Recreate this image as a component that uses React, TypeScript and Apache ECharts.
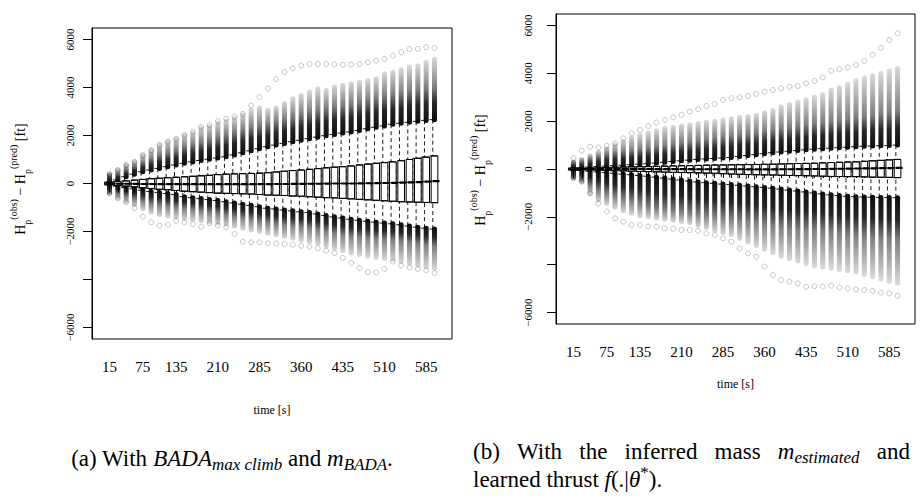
import React, { useEffect, useRef } from 'react';
import * as echarts from 'echarts';

// ---------- data ----------
const times = ['15','30','45','60','75','90','105','120','135','150','165','180','195','210','225','240','255','270','285','300','315','330','345','360','375','390','405','420','435','450','465','480','495','510','525','540','555','570','585','600'];
const shownTimes = ['15','75','135','210','285','360','435','510','585'];
const yTickValues = [-6000, -4000, -2000, 0, 2000, 4000, 6000];
const yLabelValues = [-6000, -2000, 0, 2000, 4000, 6000];

// Panel (a): BADA max climb
const aQ1 = [-50,-80,-110,-140,-180,-210,-240,-260,-290,-320,-340,-360,-380,-400,-410,-420,-430,-440,-460,-480,-490,-500,-520,-530,-550,-570,-590,-600,-620,-640,-660,-680,-700,-720,-740,-760,-770,-780,-790,-800];
const aMed = [-5,-10,-10,-15,-20,-20,-25,-25,-25,-30,-30,-30,-30,-30,-30,-30,-30,-30,-25,-25,-20,-20,-15,-15,-10,-10,-5,0,0,0,5,10,15,20,30,40,50,60,80,100];
const aQ3 = [50,80,110,140,170,200,220,240,260,280,300,320,340,370,390,400,410,420,430,450,480,510,540,560,590,620,650,680,700,730,770,810,840,870,900,950,1000,1050,1100,1150];
const aUpStart = [60,150,280,390,490,560,630,700,770,840,900,960,1010,1060,1110,1190,1280,1360,1450,1530,1600,1670,1740,1800,1870,1930,1990,2040,2100,2150,2210,2280,2340,2400,2470,2510,2550,2590,2630,2660];
const aUpDense = [390,450,600,750,900,1050,1200,1300,1400,1550,1650,1750,1850,1950,2050,2150,2250,2350,2420,2490,2600,2700,2800,2900,3000,3080,3160,3230,3280,3330,3420,3500,3580,3660,3740,3800,3860,3920,3970,4020];
const aUpOuter = [390,560,770,900,1180,1390,1600,1740,1850,2000,2100,2300,2380,2520,2600,2700,2850,3050,3150,3050,3160,3330,3530,3670,3810,3950,3880,4020,4090,4160,4220,4290,4360,4570,4640,4740,4850,4910,5050,5190];
const aUpExt = [390,560,770,900,1180,1390,1600,1740,1850,2010,2150,2360,2430,2600,2700,2780,2900,3250,3600,3950,4350,4650,4800,4920,4980,4980,4980,4960,4950,4960,4970,5050,5120,5190,5330,5470,5600,5610,5680,5650];
const aLoStart = [-60,-110,-170,-220,-280,-330,-380,-420,-460,-550,-590,-630,-670,-710,-760,-810,-860,-910,-970,-1030,-1060,-1100,-1140,-1180,-1210,-1270,-1330,-1390,-1440,-1490,-1530,-1570,-1610,-1650,-1680,-1720,-1770,-1820,-1860,-1900];
const aLoDense = [-410,-450,-550,-650,-750,-850,-900,-950,-1000,-1050,-1100,-1150,-1200,-1260,-1320,-1380,-1440,-1500,-1580,-1650,-1690,-1730,-1780,-1820,-1860,-1930,-2000,-2070,-2140,-2210,-2240,-2270,-2300,-2330,-2350,-2400,-2450,-2510,-2570,-2620];
const aLoOuter = [-410,-600,-750,-900,-1050,-1200,-1300,-1350,-1400,-1450,-1500,-1550,-1600,-1650,-1700,-1780,-1860,-1940,-2000,-2070,-2140,-2210,-2280,-2350,-2420,-2500,-2600,-2700,-2800,-2900,-2960,-3020,-3080,-3130,-3180,-3250,-3320,-3400,-3470,-3530];
const aLoExt = [-410,-620,-780,-1020,-1380,-1620,-1760,-1720,-1560,-1620,-1700,-1800,-1650,-1750,-1820,-2100,-2420,-2450,-2450,-2490,-2500,-2520,-2550,-2600,-2630,-2700,-2800,-2900,-3100,-3310,-3520,-3690,-3710,-3560,-3250,-3420,-3500,-3560,-3620,-3730];

// Panel (b): inferred mass + learned thrust
const bQ1 = [-40,-30,-40,-50,-60,-70,-80,-90,-100,-110,-120,-130,-140,-145,-150,-160,-170,-180,-195,-210,-220,-230,-240,-245,-250,-260,-270,-275,-280,-290,-300,-310,-315,-320,-320,-330,-340,-345,-350,-360];
const bMed = [0,0,0,0,0,0,0,0,0,0,-5,-5,-5,-5,-5,-10,-10,-10,-10,-10,-10,-15,-15,-15,-15,-10,-10,-5,-5,0,0,5,10,15,20,25,30,35,40,45];
const bQ3 = [40,30,40,50,60,70,80,90,95,100,110,120,130,135,140,150,160,165,170,175,180,185,190,195,200,210,220,230,235,240,255,270,280,290,300,320,340,360,380,400];
const bUpStart = [40,60,80,100,120,140,160,180,200,220,250,280,310,340,370,400,420,440,460,480,520,560,600,640,680,710,740,770,800,830,850,870,890,910,930,950,960,970,980,1000];
const bUpDense = [300,350,450,550,650,700,750,800,850,900,950,1000,1050,1100,1150,1200,1250,1300,1350,1400,1450,1500,1550,1600,1650,1700,1750,1800,1850,1900,1950,2000,2050,2100,2150,2200,2250,2300,2350,2400];
const bUpOuter = [300,400,550,700,850,1000,1150,1300,1400,1500,1600,1700,1750,1800,1850,1900,1950,2000,2050,2100,2150,2200,2250,2350,2450,2600,2700,2800,2900,3000,3100,3300,3400,3550,3700,3800,3900,4000,4100,4200];
const bUpExt = [450,770,930,900,975,1070,1280,1490,1630,1800,1940,2050,2160,2260,2400,2500,2630,2720,2890,2960,3000,3050,3140,3230,3300,3370,3440,3470,3580,3680,3830,4110,4170,4240,4350,4520,4770,5070,5390,5670];
const bLoStart = [-40,-60,-90,-120,-150,-180,-210,-240,-270,-300,-340,-380,-420,-460,-500,-540,-570,-600,-630,-650,-680,-710,-740,-770,-800,-840,-880,-920,-960,-1000,-1040,-1080,-1110,-1140,-1160,-1170,-1180,-1190,-1190,-1200];
const bLoDense = [-400,-500,-700,-900,-1020,-1150,-1250,-1350,-1450,-1580,-1650,-1700,-1750,-1800,-1850,-1900,-1950,-2000,-2050,-2100,-2150,-2200,-2250,-2300,-2410,-2450,-2500,-2520,-2540,-2550,-2600,-2650,-2700,-2750,-2800,-2850,-2880,-2910,-2940,-2970];
const bLoOuter = [-400,-530,-1020,-1300,-1440,-1600,-1750,-1850,-1950,-2000,-2050,-2100,-2150,-2200,-2250,-2350,-2450,-2550,-2650,-2750,-2900,-3050,-3200,-3350,-3500,-3650,-3750,-3850,-3950,-4050,-4100,-4150,-4200,-4250,-4300,-4400,-4500,-4600,-4700,-4780];
const bLoExt = [-320,-530,-1020,-1440,-1780,-2060,-2200,-2340,-2340,-2410,-2410,-2480,-2500,-2550,-2550,-2580,-2690,-2750,-2900,-3040,-3320,-3530,-3670,-4080,-4430,-4640,-4710,-4780,-4920,-4900,-4920,-4880,-4950,-4990,-5030,-5060,-5100,-5170,-5200,-5300];

const panelData = [
  { q1: aQ1, med: aMed, q3: aQ3, upStart: aUpStart, upDense: aUpDense, upOuter: aUpOuter, upExt: aUpExt, loStart: aLoStart, loDense: aLoDense, loOuter: aLoOuter, loExt: aLoExt },
  { q1: bQ1, med: bMed, q3: bQ3, upStart: bUpStart, upDense: bUpDense, upOuter: bUpOuter, upExt: bUpExt, loStart: bLoStart, loDense: bLoDense, loOuter: bLoOuter, loExt: bLoExt },
];

// ---------- layout ----------
const FONT = 'Liberation Serif';
const CAP = 23;
const Y_MIN = -6480;
const Y_MAX = 6480;
const layouts = [
  { x: 92, y: 28, w: 360, h: 311, titleX: 20, titleY: 179, yLabelMargin: 17, timeGap: 65 },
  { x: 556, y: 14, w: 359, h: 310, titleX: 480, titleY: 170, yLabelMargin: 23, timeGap: 54 },
];

function minus(v: number) {
  return v < 0 ? '\u2212' + Math.abs(v) : String(v);
}

let measureCtx: CanvasRenderingContext2D | null = null;
function textWidth(text: string, size: number, italic = false) {
  if (!measureCtx) measureCtx = document.createElement('canvas').getContext('2d');
  if (!measureCtx) return text.length * size * 0.5;
  measureCtx.font = (italic ? 'italic ' : '') + size + 'px "Liberation Serif", serif';
  return measureCtx.measureText(text).width;
}

const columnRenderer = (upper: boolean) => (params: any, api: any) => {
  const i = api.value(0);
  const s = api.coord([i, api.value(1)]);
  const d = api.coord([i, api.value(2)]);
  const o = api.coord([i, api.value(3)]);
  const w = 5;
  const y0 = Math.min(s[1], o[1]) - w / 2;
  const y1 = Math.max(s[1], o[1]) + w / 2;
  const h = y1 - y0;
  const fd = Math.min(0.98, (Math.abs(d[1] - s[1]) + w / 2) / h);
  const stops = [
    { offset: 0, color: 'rgba(0,0,0,0.95)' },
    { offset: fd * 0.55, color: 'rgba(0,0,0,0.85)' },
    { offset: fd, color: 'rgba(0,0,0,0.5)' },
    { offset: 1, color: 'rgba(0,0,0,0.14)' },
  ];
  const fill = upper
    ? new echarts.graphic.LinearGradient(0, 1, 0, 0, stops)
    : new echarts.graphic.LinearGradient(0, 0, 0, 1, stops);
  return {
    type: 'rect',
    shape: { x: s[0] - w / 2, y: y0, width: w, height: h, r: w / 2 },
    style: { fill },
  };
};

function captionGraphics() {
  const out: any[] = [];
  const sub = Math.round(CAP * 0.72);
  const richBase = {
    n: { fontFamily: FONT, fontSize: CAP, color: '#000', lineHeight: 30 },
    i: { fontFamily: FONT, fontSize: CAP, fontStyle: 'italic', color: '#000', lineHeight: 30 },
    s: { fontFamily: FONT, fontSize: sub, fontStyle: 'italic', color: '#000', lineHeight: sub, verticalAlign: 'bottom' },
    sp: { fontFamily: FONT, fontSize: sub, color: '#000', lineHeight: sub, verticalAlign: 'top' },
  };
  // (a) single line, centred under panel (a)
  const aW = textWidth('(a) With ', CAP) + textWidth('BADA', CAP, true) + textWidth('max climb', sub, true)
    + textWidth(' and ', CAP) + textWidth('m', CAP, true) + textWidth('BADA', sub, true) + textWidth('.', CAP);
  out.push({
    type: 'text', z: 20, silent: true, x: 232 - aW / 2, y: 458,
    style: {
      text: '{n|(a) With }{i|BADA}{s|max climb}{n| and }{i|m}{s|BADA}{n|.}',
      verticalAlign: 'middle', rich: richBase,
    },
  });
  // (b) first line, justified between x0 and x1
  const x0 = 473;
  const x1 = 910;
  const words: { text: string; w: number }[] = [
    { text: '{n|(b)}', w: textWidth('(b)', CAP) },
    { text: '{n|With}', w: textWidth('With', CAP) },
    { text: '{n|the}', w: textWidth('the', CAP) },
    { text: '{n|inferred}', w: textWidth('inferred', CAP) },
    { text: '{n|mass}', w: textWidth('mass', CAP) },
    { text: '{i|m}{s|estimated}', w: textWidth('m', CAP, true) + textWidth('estimated', sub, true) },
    { text: '{n|and}', w: textWidth('and', CAP) },
  ];
  const total = words.reduce((acc, wd) => acc + wd.w, 0);
  const gap = (x1 - x0 - total) / (words.length - 1);
  let cx = x0;
  words.forEach((wd) => {
    out.push({
      type: 'text', z: 20, silent: true, x: cx, y: 451,
      style: { text: wd.text, verticalAlign: 'middle', rich: richBase },
    });
    cx += wd.w + gap;
  });
  out.push({
    type: 'text', z: 20, silent: true, x: x0, y: 479,
    style: {
      text: '{n|learned thrust }{i|f}{n|(.|}{i|\u03B8}{sp|*}{n|).}',
      verticalAlign: 'middle', rich: richBase,
    },
  });
  return out;
}

function buildOption() {
  const grids: any[] = [];
  const xAxes: any[] = [];
  const yAxes: any[] = [];
  const series: any[] = [];
  const graphics: any[] = [];

  layouts.forEach((L, p) => {
    const unit = L.w / 43.2;
    const gLeft = L.x + 1.6 * unit;
    grids.push({ left: gLeft, top: L.y, width: 40 * unit, height: L.h, containLabel: false });
    xAxes.push({
      type: 'category',
      gridIndex: p,
      data: times,
      boundaryGap: true,
      axisLine: { show: false },
      axisTick: { show: true, alignWithLabel: true, interval: 0, length: 9, lineStyle: { color: '#000', width: 1 } },
      axisLabel: {
        interval: (_idx: number, val: string) => shownTimes.includes(val),
        fontFamily: FONT, fontSize: 15, color: '#000', margin: 20,
      },
      splitLine: { show: false },
      name: 'time [s]',
      nameLocation: 'middle',
      nameGap: L.timeGap,
      nameTextStyle: { fontFamily: FONT, fontSize: 12, color: '#000' },
    });
    yAxes.push({
      type: 'value',
      gridIndex: p,
      min: Y_MIN,
      max: Y_MAX,
      offset: 1.6 * unit,
      axisLine: { show: true, lineStyle: { color: '#000', width: 1 } },
      axisTick: { show: true, customValues: yTickValues, length: 9, lineStyle: { color: '#000', width: 1 } },
      axisLabel: {
        customValues: yLabelValues, rotate: 90, margin: L.yLabelMargin,
        fontFamily: FONT, fontSize: 11, color: '#000',
        formatter: (v: number) => minus(v),
      },
      splitLine: { show: false },
    });

    const D = panelData[p];
    const idx = times.map((_, i) => i);
    series.push({
      type: 'custom', xAxisIndex: p, yAxisIndex: p, z: 2,
      renderItem: columnRenderer(true),
      encode: { x: 0, y: [1, 2, 3] },
      data: idx.map((i) => [i, D.upStart[i], D.upDense[i], D.upOuter[i]]),
      silent: true,
    });
    series.push({
      type: 'custom', xAxisIndex: p, yAxisIndex: p, z: 2,
      renderItem: columnRenderer(false),
      encode: { x: 0, y: [1, 2, 3] },
      data: idx.map((i) => [i, D.loStart[i], D.loDense[i], D.loOuter[i]]),
      silent: true,
    });
    series.push({
      type: 'scatter', xAxisIndex: p, yAxisIndex: p, z: 2,
      symbol: 'circle', symbolSize: 5,
      itemStyle: { color: 'rgba(0,0,0,0)', borderColor: 'rgba(0,0,0,0.35)', borderWidth: 0.8 },
      data: idx.flatMap((i) => [[i, D.upExt[i]], [i, D.loExt[i]]]),
      silent: true,
    });
    series.push({
      type: 'boxplot', xAxisIndex: p, yAxisIndex: p, z: 3,
      boxWidth: [unit * 0.8, unit * 0.8],
      itemStyle: { color: 'rgba(0,0,0,0)', borderColor: '#000', borderWidth: 0.9, borderType: [4, 3] },
      emphasis: { disabled: true },
      data: idx.map((i) => [D.loStart[i], D.q1[i], D.med[i], D.q3[i], D.upStart[i]]),
      silent: true,
    });
    series.push({
      type: 'boxplot', xAxisIndex: p, yAxisIndex: p, z: 4,
      boxWidth: [unit * 0.8, unit * 0.8],
      itemStyle: { color: '#fff', borderColor: '#000', borderWidth: 1 },
      emphasis: { disabled: true },
      data: idx.map((i) => [D.q1[i], D.q1[i], D.med[i], D.q3[i], D.q3[i]]),
      silent: true,
    });
    series.push({
      type: 'boxplot', xAxisIndex: p, yAxisIndex: p, z: 5,
      boxWidth: [unit * 0.8, unit * 0.8],
      itemStyle: { color: '#000', borderColor: '#000', borderWidth: 2.2 },
      emphasis: { disabled: true },
      data: idx.map((i) => [D.med[i], D.med[i], D.med[i], D.med[i], D.med[i]]),
      silent: true,
    });

    graphics.push({
      type: 'rect', z: 20, silent: true,
      shape: { x: L.x, y: L.y, width: L.w, height: L.h },
      style: { fill: 'none', stroke: '#000', lineWidth: 1 },
    });
    graphics.push({
      type: 'text', z: 20, silent: true,
      x: L.titleX, y: L.titleY, rotation: Math.PI / 2,
      style: {
        text: '{m|H}{sb|p}{sp|(obs)}{m| \u2212 H}{sb|p}{sp|(pred)}{m| [ft]}',
        align: 'center', verticalAlign: 'middle',
        rich: {
          m: { fontFamily: FONT, fontSize: 14, color: '#000', lineHeight: 24 },
          sb: { fontFamily: FONT, fontSize: 10, color: '#000', lineHeight: 10, verticalAlign: 'bottom' },
          sp: { fontFamily: FONT, fontSize: 10, color: '#000', lineHeight: 10, verticalAlign: 'top' },
        },
      },
    });
  });

  captionGraphics().forEach((g) => graphics.push(g));

  return {
    animation: false,
    backgroundColor: '#fff',
    textStyle: { fontFamily: FONT },
    grid: grids,
    xAxis: xAxes,
    yAxis: yAxes,
    series,
    graphic: graphics,
  };
}

export default function App() {
  const ref = useRef<HTMLDivElement>(null);
  useEffect(() => {
    if (!ref.current) return;
    const chart = echarts.init(ref.current, undefined, { renderer: 'svg' });
    chart.setOption(buildOption() as any);
    return () => chart.dispose();
  }, []);
  return <div ref={ref} style={{ position: 'absolute', left: 0, top: 0, width: 923, height: 496 }} />;
}
